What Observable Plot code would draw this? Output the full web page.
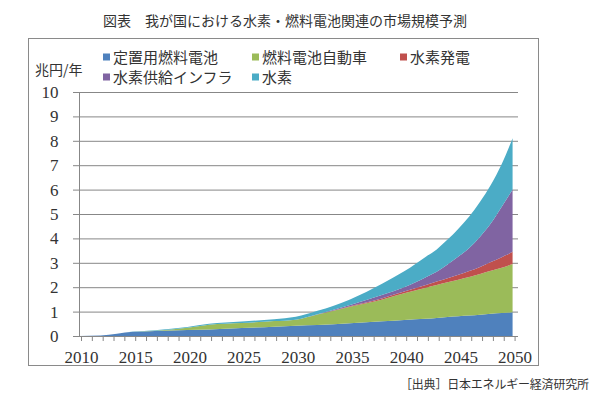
<!DOCTYPE html>
<html>
<head>
<meta charset="utf-8">
<script src="https://cdn.jsdelivr.net/npm/d3@7"></script>
<script src="https://cdn.jsdelivr.net/npm/@observablehq/plot@0.6"></script>
<style>
  html, body { margin: 0; padding: 0; background: #fff; }
  #wrap { position: relative; width: 600px; height: 406px; overflow: hidden; font-family: "Noto Sans CJK JP", sans-serif; color: #333; }
  .abs { position: absolute; white-space: nowrap; }
  .vc { transform: translateY(-50%); line-height: 1; }
  #frame { position: absolute; left: 28px; top: 38px; width: 511px; height: 328px; border: 1px solid #8a8a8a; box-sizing: border-box; }
  .sw { display: inline-block; width: 7px; height: 7px; margin-right: 3px; vertical-align: middle; position: relative; top: -1px; }
  #chart { position: absolute; left: 0; top: 80px; }
</style>
</head>
<body>
<div id="wrap">
  <div class="abs vc" style="left:0;width:570px;text-align:center;top:20px;font-size:14px;">図表　我が国における水素・燃料電池関連の市場規模予測</div>
  <div id="frame"></div>
  <div class="abs vc" style="left:35px;top:69px;font-size:14px;">兆円/年</div>
  <div id="legend"></div>
  <div id="chart"></div>
  <div class="abs vc" style="left:400px;top:384px;font-size:12px;letter-spacing:-0.2px;">［出典］日本エネルギー経済研究所</div>
</div>
<script>
// Data (兆円/年)
const years = [2010, 2012, 2015, 2017, 2020, 2022, 2025, 2028, 2030, 2032, 2035, 2038, 2040, 2042, 2043, 2044, 2045, 2046, 2047, 2048, 2049, 2050];
const stationaryFC = [0, 0.02, 0.17, 0.21, 0.25, 0.27, 0.33, 0.38, 0.42, 0.45, 0.52, 0.60, 0.66, 0.71, 0.74, 0.78, 0.81, 0.84, 0.87, 0.91, 0.94, 0.97];
const fcVehicle    = [0, 0, 0, 0.01, 0.09, 0.19, 0.20, 0.23, 0.25, 0.43, 0.68, 0.90, 1.09, 1.27, 1.35, 1.42, 1.50, 1.58, 1.67, 1.76, 1.86, 1.98];
const h2Power      = [0, 0, 0, 0, 0, 0, 0, 0, 0, 0, 0.02, 0.05, 0.07, 0.11, 0.14, 0.17, 0.20, 0.24, 0.29, 0.36, 0.43, 0.50];
const h2Infra      = [0, 0, 0, 0, 0, 0, 0, 0, 0, 0.01, 0.05, 0.14, 0.18, 0.32, 0.40, 0.56, 0.75, 0.95, 1.24, 1.59, 2.07, 2.55];
const hydrogen     = [0, 0, 0.01, 0.02, 0.03, 0.04, 0.06, 0.08, 0.12, 0.14, 0.23, 0.46, 0.65, 0.84, 0.92, 1.02, 1.14, 1.29, 1.43, 1.58, 1.75, 2.10];

const seriesNames = ["定置用燃料電池", "燃料電池自動車", "水素発電", "水素供給インフラ", "水素"];
const seriesColors = ["#4F81BD", "#9BBB59", "#C0504D", "#8064A2", "#4BACC6"];
const seriesValues = [stationaryFC, fcVehicle, h2Power, h2Infra, hydrogen];
const yTicks = [0, 1, 2, 3, 4, 5, 6, 7, 8, 9, 10];
const xLabelYears = [2010, 2015, 2020, 2025, 2030, 2035, 2040, 2045, 2050];

const data = years.flatMap((yr, i) =>
  seriesNames.map((s, j) => ({year: yr, series: s, value: seriesValues[j][i]}))
);

// Legend (HTML)
const legendPos = [
  {left: 103, top: 56}, {left: 252, top: 56}, {left: 400, top: 56},
  {left: 103, top: 76}, {left: 252, top: 76}
];
const legend = document.getElementById("legend");
seriesNames.forEach((s, j) => {
  const d = document.createElement("div");
  d.className = "abs vc";
  d.style.left = legendPos[j].left + "px";
  d.style.top = legendPos[j].top + "px";
  d.style.fontSize = "15px";
  d.innerHTML = `<span class="sw" style="background:${seriesColors[j]}"></span>${s}`;
  legend.appendChild(d);
});

const gridColor = "#878787";
const allYears = d3.range(2010, 2051);

const chart = Plot.plot({
  width: 600,
  height: 290,
  marginLeft: 79,
  marginRight: 82,
  marginTop: 12,
  marginBottom: 34,
  style: {fontFamily: "'Liberation Serif', serif", fontSize: "17px", background: "transparent", color: "#333"},
  x: {domain: [2010, 2050.5], label: null},
  y: {domain: [0, 10], label: null},
  color: {domain: seriesNames, range: seriesColors},
  marks: [
    Plot.gridY(yTicks.filter(d => d > 0), {stroke: gridColor, strokeOpacity: 1}),
    Plot.areaY(data, {x: "year", y: "value", fill: "series", order: seriesNames, curve: "monotone-x"}),
    Plot.ruleX([2010], {stroke: gridColor}),
    Plot.ruleY([0], {stroke: gridColor}),
    Plot.axisY({ticks: yTicks, tickSize: 6, tickPadding: 15, stroke: gridColor, fill: "#333", label: null}),
    Plot.axisX({ticks: allYears, tickSize: 5, tickPadding: 9, stroke: gridColor, fill: "#333", dx: 2,
      tickFormat: d => xLabelYears.includes(d) ? String(d) : "", label: null})
  ]
});
document.getElementById("chart").appendChild(chart);
</script>
</body>
</html>
